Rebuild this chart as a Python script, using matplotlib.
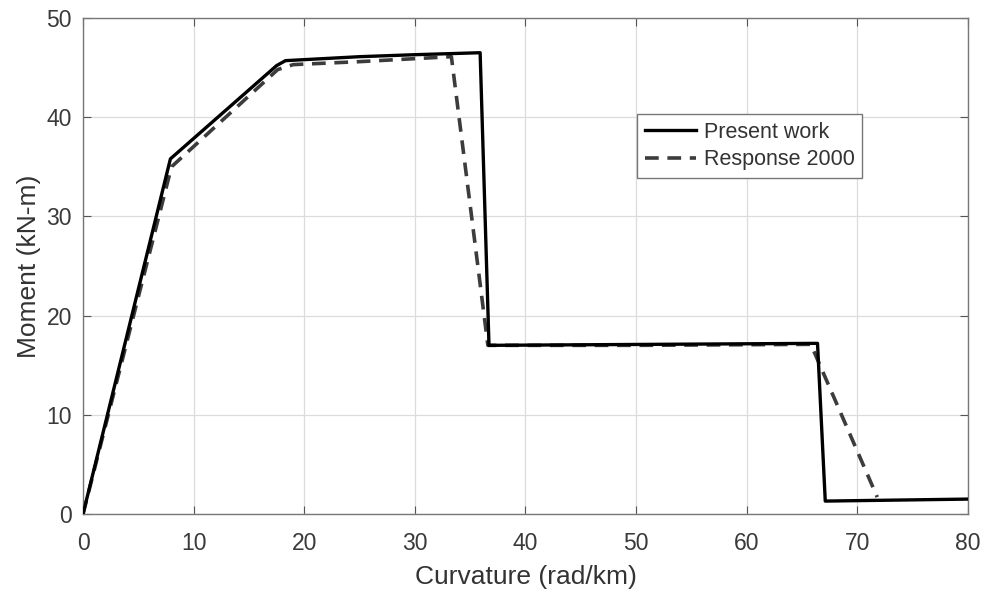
import numpy as np
import matplotlib.pyplot as plt

# Moment-curvature data
present_x = [0, 7.9, 17.5, 18.3, 25, 30, 35.9, 36.7, 66.4, 67.1, 80]
present_y = [0, 35.8, 45.2, 45.7, 46.1, 46.3, 46.5, 17.0, 17.2, 1.3, 1.5]

resp_x = [0, 8.0, 17.6, 19.0, 25, 33.3, 36.6, 50, 65.8, 71.8]
resp_y = [0, 35.0, 44.8, 45.3, 45.6, 46.1, 17.0, 17.0, 17.1, 1.7]

plt.rcParams['font.family'] = ['Liberation Sans', 'DejaVu Sans']

fig = plt.figure(figsize=(9.86, 5.92), dpi=100)
ax = fig.add_axes([0.0842, 0.1318, 0.8975, 0.8378])

ax.plot(present_x, present_y, color='black', linewidth=2.4,
        label='Present work', zorder=3)
ax.plot(resp_x, resp_y, color='#3c3c3c', linewidth=2.6, linestyle='--',
        dashes=(3.8, 2.4), label='Response 2000', zorder=2)

ax.set_xlim(0, 80)
ax.set_ylim(0, 50)
ax.set_xticks(np.arange(0, 81, 10))
ax.set_yticks(np.arange(0, 51, 10))

ax.grid(True, color='#dcdcdc', linewidth=0.9)
ax.set_axisbelow(True)
ax.tick_params(direction='in', length=6, width=0.8, top=True, right=True,
               labelsize=16.5, colors='#555555', labelcolor='#3a3a3a')
ax.tick_params(axis='x', pad=13)
ax.tick_params(axis='y', pad=8)
for sp in ax.spines.values():
    sp.set_color('#777777')
    sp.set_linewidth(1.0)

ax.set_xlabel('Curvature (rad/km)', fontsize=19, color='#333333', labelpad=7)
ax.set_ylabel('Moment (kN-m)', fontsize=19, color='#333333', labelpad=4)

leg = ax.legend(loc='upper left', bbox_to_anchor=(0.626, 0.806), fontsize=15.5,
                fancybox=False, framealpha=1, edgecolor='#777777',
                handlelength=2.4, handletextpad=0.35, borderpad=0.35,
                labelspacing=0.3, borderaxespad=0)
leg.get_frame().set_linewidth(1.0)
for t in leg.get_texts():
    t.set_color('#333333')

fig.savefig('out.png', dpi=100)
